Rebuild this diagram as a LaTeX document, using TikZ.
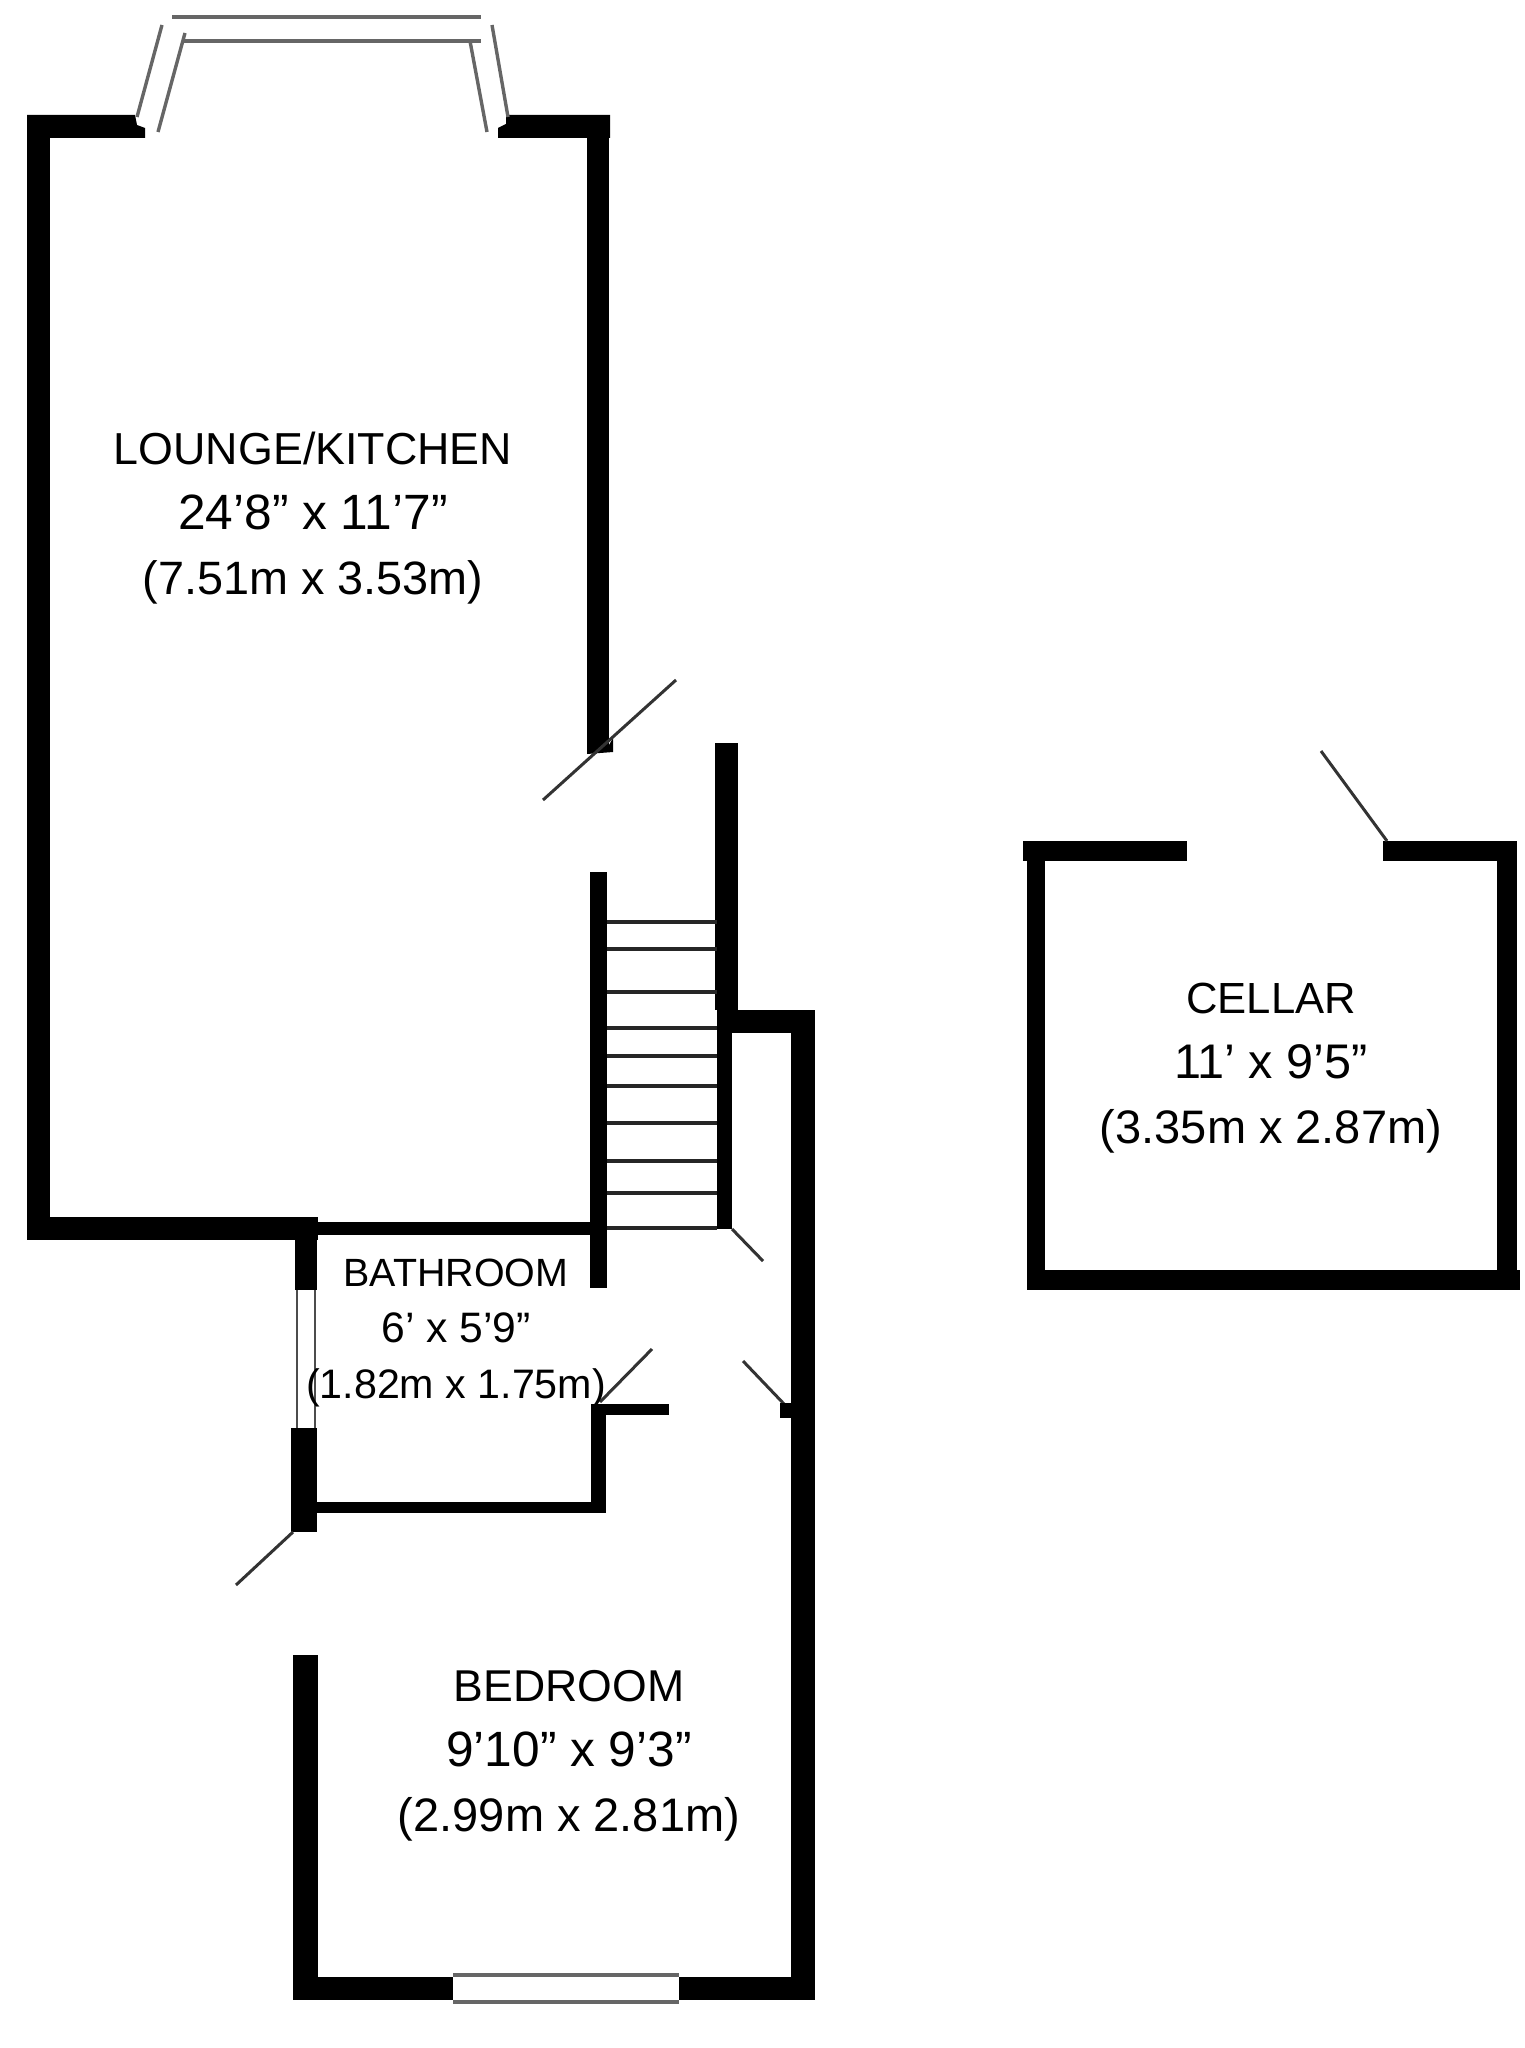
\documentclass[tikz,border=0pt]{standalone}
\usepackage{fontspec}
\setmainfont{Liberation Sans}
\newcommand{\szline}[2]{{\fontsize{#1}{10}\selectfont #2}}
\tikzset{
  wall/.style={fill=black,draw=none},
  doorleaf/.style={draw=black!80,line width=1.5pt},
  tread/.style={draw=black!85,line width=2pt},
  glass/.style={draw=black!60,line width=1.7pt},
  glassthin/.style={draw=black!70,line width=1.4pt},
  room/.style={align=center,inner sep=0pt,font=\fontsize{22.3}{32.5}\selectfont},
  roomsmall/.style={align=center,inner sep=0pt,font=\fontsize{19.6}{28}\selectfont}
}
\begin{document}
\begin{tikzpicture}[x=0.5pt,y=-0.5pt]
\path[use as bounding box,fill=white] (0,0) rectangle (1524,2048);
% lounge
\path[wall] (27,115) -- (135,115) -- (137,125) -- (145,128) -- (145,138) -- (27,138) -- cycle;
\path[wall] (27,115) rectangle (50,1240);
\path[wall] (27,1217) rectangle (318,1240);
\path[wall] (506,115) -- (610,115) -- (610,138) -- (498,138) -- (498,128) -- (506,124) -- cycle;
\path[wall] (587,115) rectangle (609,745);
\path[wall] (587,745) -- (609,745) -- (613,738) -- (613,752) -- (587,754) -- cycle;
% bay window
\draw[glass] (172,17) -- (481,17);
\draw[glass] (183,41) -- (481,41);
\draw[glass] (162,25) -- (137,117);
\draw[glass] (185,33) -- (158,132);
\draw[glass] (470,41) -- (487,132);
\draw[glass] (492,25) -- (508,117);
% lounge door
\draw[doorleaf] (543,800) -- (676,680);
% stairs
\path[wall] (590,872) rectangle (607,1288);
\path[wall] (715,743) rectangle (738,1010);
\path[wall] (717,1010) rectangle (732,1229);
\path[wall] (717,1010) rectangle (815,1033);
\path[wall] (791,1010) rectangle (815,2000);
\foreach \ty in {922,949,992,1028,1056,1086,1123,1161,1193,1228}
  \draw[tread] (607,\ty) -- (717,\ty);
% bathroom
\path[wall] (318,1222) rectangle (590,1235);
\path[wall] (295,1240) rectangle (317,1290);
\path[wall] (291,1428) rectangle (317,1532);
\draw[glassthin] (297,1290) -- (297,1428);
\draw[glassthin] (315,1290) -- (315,1428);
\path[wall] (317,1502) rectangle (600,1513);
\path[wall] (591,1405) rectangle (606,1513);
\path[wall] (591,1404) rectangle (669,1415);
\draw[doorleaf] (600,1402) -- (652,1349);
\draw[doorleaf] (732,1229) -- (763,1261);
\draw[doorleaf] (743,1361) -- (785,1405);
\path[wall] (780,1403) rectangle (793,1418);
\draw[doorleaf] (293,1532) -- (236,1585);
% bedroom
\path[wall] (293,1655) rectangle (318,2000);
\path[wall] (293,1977) rectangle (453,2000);
\path[wall] (679,1977) rectangle (815,2000);
\draw[glass] (453,1975) -- (679,1975);
\draw[glass] (453,2002) -- (679,2002);
% cellar
\path[wall] (1023,841) rectangle (1187,861);
\path[wall] (1027,841) rectangle (1045,1290);
\path[wall] (1027,1270) rectangle (1520,1290);
\path[wall] (1383,841) rectangle (1517,861);
\path[wall] (1497,841) rectangle (1517,1290);
\draw[doorleaf] (1387,841) -- (1321,751);
% labels
\node[room] (lounge) at (313,518) {\szline{22.4}{LOUNGE/KITCHEN}\\\szline{24.8}{24’8” x 11’7”}\\\szline{23.4}{(7.51m x 3.53m)}};
\node[roomsmall] (bathroom) at (456,1333) {\szline{19.7}{BATHROOM}\\\szline{21.3}{6’ x 5’9”}\\\szline{20.6}{(1.82m x 1.75m)}};
\node[room] (bedroom) at (569,1756) {\szline{22.3}{BEDROOM}\\\szline{24.8}{9’10” x 9’3”}\\\szline{23.5}{(2.99m x 2.81m)}};
\node[room] (cellar) at (1271,1068) {\szline{21.8}{CELLAR}\\\szline{24.3}{11’ x 9’5”}\\\szline{23.5}{(3.35m x 2.87m)}};
\end{tikzpicture}
\end{document}
